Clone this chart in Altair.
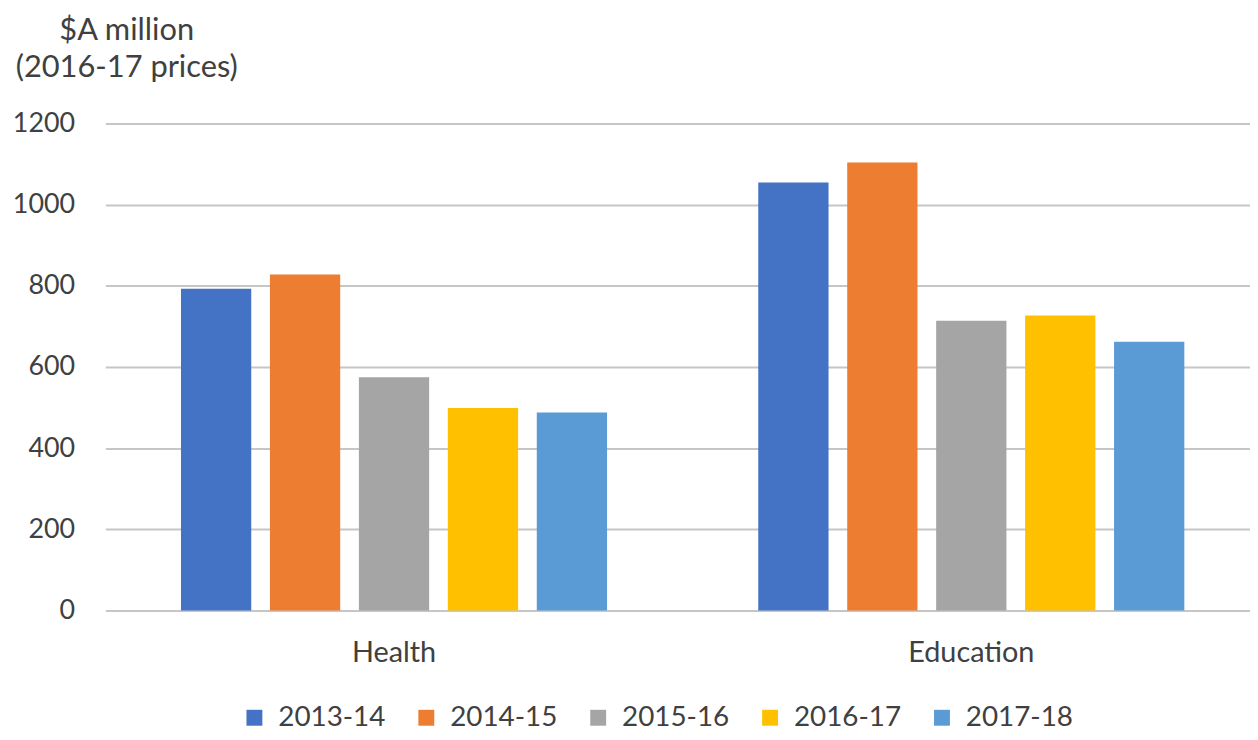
import altair as alt
import pandas as pd

categories = ["Health", "Education"]
years = ["2013-14", "2014-15", "2015-16", "2016-17", "2017-18"]
health = [793, 828, 575, 499, 488]
education = [1055, 1104, 714, 727, 662]
colors = ["#4472C4", "#ED7D31", "#A5A5A5", "#FFC000", "#5B9BD5"]

rows = []
for cat, vals in zip(categories, [health, education]):
    for y, v in zip(years, vals):
        rows.append({"category": cat, "year": y, "value": v})
df = pd.DataFrame(rows)

FONT = "Lato"
TXT = "#404040"

chart = alt.Chart(df).mark_bar().encode(
    x=alt.X("category:N", sort=categories,
            scale=alt.Scale(paddingInner=0, paddingOuter=0, range=[0, 1162], round=False),
            axis=alt.Axis(title=None, labelAngle=0, ticks=False, domain=False,
                          labelFont=FONT, labelFontSize=29, labelColor=TXT,
                          labelPadding=28)),
    xOffset=alt.XOffset("year:N", sort=years,
                        scale=alt.Scale(paddingInner=0.21, paddingOuter=0.85, round=False)),
    y=alt.Y("value:Q", scale=alt.Scale(domain=[0, 1200]),
            axis=alt.Axis(values=[0, 200, 400, 600, 800, 1000, 1200], format="d",
                          title=["$A million", "(2016-17 prices)"],
                          titleAngle=0, titleAlign="center", titleBaseline="alphabetic",
                          titleX=21, titleY=-85, titleLineHeight=38,
                          titleFont=FONT, titleFontSize=31, titleFontWeight="normal",
                          titleColor=TXT,
                          ticks=False, domain=False, labelPadding=31,
                          labelFont=FONT, labelFontSize=27, labelColor=TXT,
                          gridColor="#c6c6c6", gridWidth=2)),
    color=alt.Color("year:N", sort=years,
                    scale=alt.Scale(domain=years, range=colors),
                    legend=alt.Legend(title=None, orient="none", direction="horizontal",
                                      columns=5, legendX=136, legendY=584,
                                      symbolType="square", symbolSize=256,
                                      symbolStrokeWidth=0,
                                      labelFont=FONT, labelFontSize=28, labelColor=TXT,
                                      labelOffset=10, columnPadding=27)),
).properties(
    width=1152, height=490,
    autosize=alt.AutoSizeParams(type="none"),
    padding={"left": 98, "top": 114, "right": 0, "bottom": 120},
).configure_view(stroke=None)

chart.save("out.html", embed_options={"renderer": "svg", "actions": False})
